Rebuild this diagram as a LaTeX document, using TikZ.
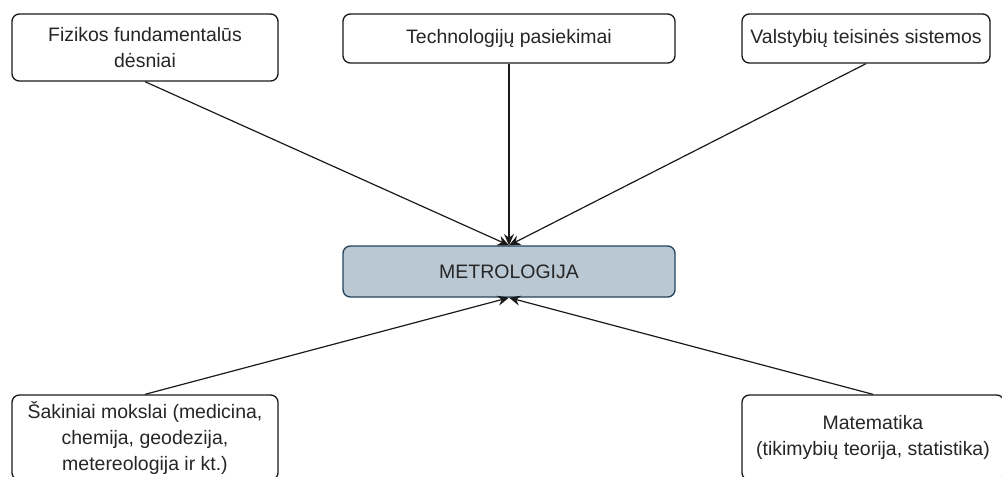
\documentclass[tikz,border=0pt]{standalone}
\usepackage{fontspec}
\setmainfont{Liberation Sans}
\usetikzlibrary{arrows.meta}
\definecolor{txt}{HTML}{262626}
\definecolor{edge}{HTML}{1A1A1A}
\definecolor{hubfill}{HTML}{BAC8D3}
\definecolor{hubdraw}{HTML}{23445D}
\begin{document}
\begin{tikzpicture}[x=0.75pt,y=-0.75pt,
  box/.style={draw=edge, line width=1pt, rounded corners=5.5pt, fill=white,
    inner sep=0pt, align=center, text=txt,
    font=\fontsize{14.6pt}{19.5pt}\selectfont},
  hub/.style={box, fill=hubfill, draw=hubdraw},
  link/.style={draw=edge, line width=0.9pt,
    -{Stealth[length=8.5pt,width=7.5pt,inset=2.8pt]}}]
\clip (0,0) rectangle (1002,476);

% source boxes
\node[box, minimum width=199.5pt, minimum height=50.25pt] (fiz) at (145,47.5)
  {Fizikos fundamentalūs\\dėsniai};
\node[box, minimum width=249pt, minimum height=36.75pt] (tech) at (509,38.5)
  {Technologijų pasiekimai};
\node[box, minimum width=186pt, minimum height=36.75pt] (teis) at (866,38.5)
  {Valstybių teisinės sistemos};
\node[box, minimum width=199.5pt, minimum height=63.75pt] (sak) at (145,437.5)
  {Šakiniai mokslai (medicina,\\chemija, geodezija,\\metereologija ir kt.)};
\node[box, minimum width=196.5pt, minimum height=63.75pt] (mat) at (873,437.5)
  {Matematika\\(tikimybių teorija, statistika)};

% central node
\node[hub, minimum width=249pt, minimum height=38.25pt] (met) at (509,271.5)
  {METROLOGIJA};

% connectors
\draw[link] (fiz.south) -- (met.north);
\draw[link] (tech.south) -- (met.north);
\draw[link] (teis.south) -- (met.north);
\draw[link] (sak.north) -- (met.south);
\draw[link] (mat.north) -- (met.south);
\end{tikzpicture}
\end{document}
